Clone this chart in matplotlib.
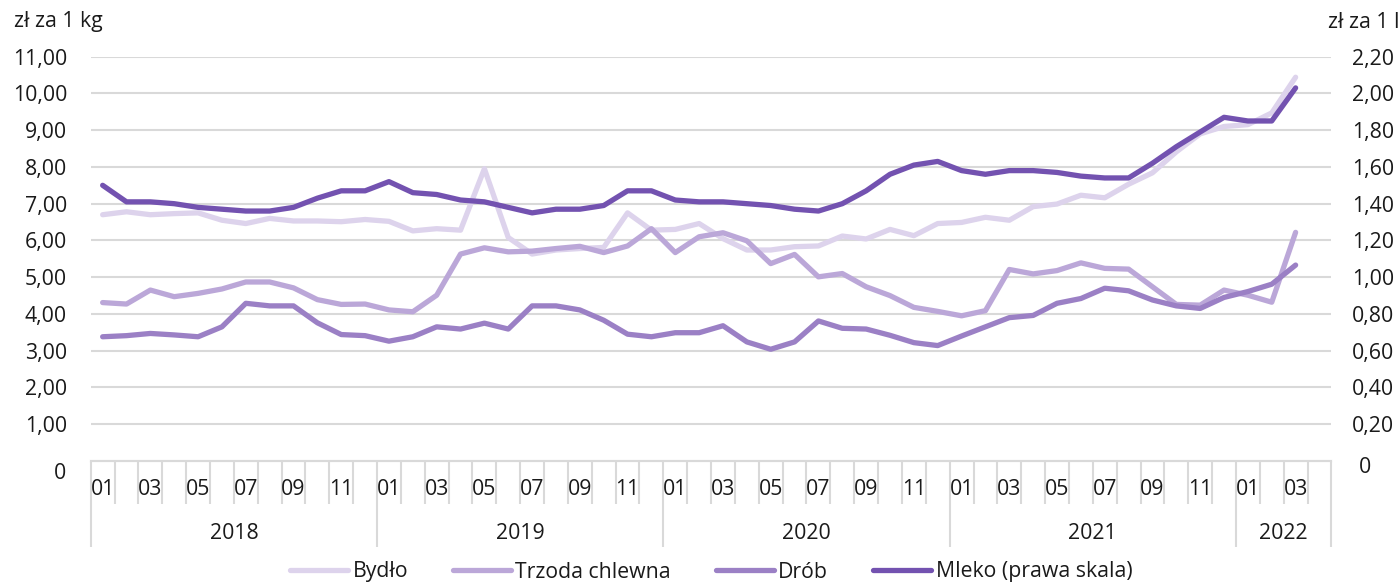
import matplotlib
matplotlib.use("Agg")
import matplotlib.pyplot as plt
import matplotlib.transforms as mtransforms
from matplotlib.ticker import FixedLocator

plt.rcParams['font.family'] = ['Open Sans', 'DejaVu Sans']

years = ['2018', '2019', '2020', '2021', '2022']
months_per_year = [12, 12, 12, 12, 4]
month_labels = ['01', '', '03', '', '05', '', '07', '', '09', '', '11', '']

bydlo = [6.70, 6.78, 6.70, 6.73, 6.75, 6.55, 6.46, 6.60, 6.53, 6.53, 6.51, 6.57,
         6.52, 6.26, 6.32, 6.28, 7.95, 6.08, 5.63, 5.74, 5.78, 5.81, 6.75, 6.28,
         6.30, 6.46, 6.05, 5.74, 5.74, 5.83, 5.85, 6.12, 6.04, 6.30, 6.13, 6.46,
         6.49, 6.63, 6.55, 6.92, 6.99, 7.23, 7.16, 7.53, 7.84, 8.41, 8.90, 9.10,
         9.15, 9.47, 10.44]
trzoda = [4.31, 4.27, 4.65, 4.47, 4.56, 4.68, 4.87, 4.87, 4.71, 4.39, 4.26, 4.27,
          4.11, 4.06, 4.51, 5.63, 5.80, 5.69, 5.71, 5.78, 5.84, 5.67, 5.85, 6.32,
          5.67, 6.10, 6.21, 5.99, 5.37, 5.62, 5.01, 5.10, 4.74, 4.50, 4.18, 4.07,
          3.95, 4.09, 5.21, 5.09, 5.18, 5.39, 5.24, 5.22, 4.74, 4.26, 4.24, 4.65,
          4.51, 4.32, 6.22]
drob = [3.38, 3.41, 3.47, 3.43, 3.38, 3.65, 4.29, 4.22, 4.22, 3.76, 3.44, 3.41,
        3.26, 3.38, 3.65, 3.59, 3.75, 3.59, 4.22, 4.22, 4.11, 3.83, 3.45, 3.38,
        3.49, 3.49, 3.68, 3.24, 3.04, 3.24, 3.81, 3.61, 3.59, 3.42, 3.22, 3.14,
        3.40, 3.65, 3.90, 3.96, 4.29, 4.42, 4.70, 4.63, 4.38, 4.22, 4.15, 4.45,
        4.61, 4.81, 5.33]
mleko = [1.50, 1.41, 1.41, 1.40, 1.38, 1.37, 1.36, 1.36, 1.38, 1.43, 1.47, 1.47,
         1.52, 1.46, 1.45, 1.42, 1.41, 1.38, 1.35, 1.37, 1.37, 1.39, 1.47, 1.47,
         1.42, 1.41, 1.41, 1.40, 1.39, 1.37, 1.36, 1.40, 1.47, 1.56, 1.61, 1.63,
         1.58, 1.56, 1.58, 1.58, 1.57, 1.55, 1.54, 1.54, 1.62, 1.71, 1.79, 1.87,
         1.85, 1.85, 2.03]

series_names = ['Bydło', 'Trzoda chlewna', 'Drób', 'Mleko (prawa skala)']
colors = ['#ddd3ec', '#bba7d8', '#9b80c5', '#7352b0']

left_ticks = [1, 2, 3, 4, 5, 6, 7, 8, 9, 10, 11]
right_ticks = [0.2, 0.4, 0.6, 0.8, 1.0, 1.2, 1.4, 1.6, 1.8, 2.0, 2.2]

TXT = '#1a1a1a'
GRID = '#d9d9d9'
FS = 15.3
LW = 3.8

fig = plt.figure(figsize=(14, 5.84), dpi=100)
ax = fig.add_axes([0.0648, 0.2106, 0.8862, 0.6924])
ax2 = ax.twinx()

n_slots = sum(months_per_year)
x = list(range(len(bydlo)))

lines = []
for vals, c, name in zip([bydlo, trzoda, drob], colors[:3], series_names[:3]):
    l, = ax.plot(x, vals, color=c, lw=LW, label=name,
                 solid_capstyle='round', solid_joinstyle='round', zorder=3)
    lines.append(l)
l, = ax2.plot(x, mleko, color=colors[3], lw=LW, label=series_names[3],
              solid_capstyle='round', solid_joinstyle='round', zorder=3)
lines.append(l)

ax.set_xlim(-0.5, n_slots - 0.5)
ax2.set_xlim(-0.5, n_slots - 0.5)
ax.set_ylim(0, 11)
ax2.set_ylim(0, 2.2)

fmt = lambda v: f"{v:.2f}".replace('.', ',')
ax.set_yticks(left_ticks)
ax.set_yticklabels([fmt(v) for v in left_ticks])
ax2.set_yticks(right_ticks)
ax2.set_yticklabels([fmt(v) for v in right_ticks])
ax.tick_params(axis='y', length=0, pad=17, labelsize=FS, labelcolor=TXT)
ax2.tick_params(axis='y', length=0, pad=15, labelsize=FS, labelcolor=TXT)

ax.yaxis.grid(True, color=GRID, lw=1.5)
ax.set_axisbelow(True)
for a in (ax, ax2):
    for s in ('top', 'left', 'right'):
        a.spines[s].set_visible(False)
    a.spines['bottom'].set_color(GRID)
    a.spines['bottom'].set_linewidth(1.5)

# zero labels (placed slightly lower, as in the reference)
ax.annotate('0', xy=(0, 0), xycoords='axes fraction', xytext=(-18, -9),
            textcoords='offset points', ha='right', va='center', fontsize=FS, color=TXT)
ax2.annotate('0', xy=(1, 0), xycoords='axes fraction', xytext=(20, -5),
             textcoords='offset points', ha='left', va='center', fontsize=FS, color=TXT)

# category axis: month boundaries (minor) and year boundaries (major)
bounds = [-0.5]
for m in months_per_year:
    bounds.append(bounds[-1] + m)
month_bounds = [b - 0.5 for b in range(n_slots + 1)]
ax.xaxis.set_major_locator(FixedLocator(bounds))
ax.xaxis.set_minor_locator(FixedLocator([b for b in month_bounds if b not in bounds]))
ax.set_xticklabels([])
ax.tick_params(axis='x', which='major', length=62, width=1.5, color=GRID, direction='out')
ax.tick_params(axis='x', which='minor', length=31, width=1.5, color=GRID, direction='out')
ax2.tick_params(axis='x', which='both', length=0)

trans = mtransforms.blended_transform_factory(ax.transData, ax.transAxes)
px = 72 / 100
idx = 0
for yr, m in zip(years, months_per_year):
    for k in range(m):
        lab = month_labels[k]
        if lab:
            ax.annotate(lab, xy=(idx + k, 0), xycoords=trans, xytext=(0, -28 * px),
                        textcoords='offset points', ha='center', va='center',
                        fontsize=FS, color=TXT)
    ax.annotate(yr, xy=(idx + (m - 1) / 2, 0), xycoords=trans, xytext=(0, -72 * px),
                textcoords='offset points', ha='center', va='center',
                fontsize=FS, color=TXT)
    idx += m

fig.text(14 / 1400, 1 - 22 / 584, 'zł za 1 kg', ha='left', va='center', fontsize=FS, color=TXT)
fig.text(1328 / 1400, 1 - 22 / 584, 'zł za 1 l', ha='left', va='center', fontsize=FS, color=TXT)

leg = fig.legend(lines, series_names, loc='center', bbox_to_anchor=(711 / 1400, 1 - 572 / 584),
                 ncol=4, frameon=False, fontsize=FS, handlelength=2.75, handletextpad=0.2,
                 columnspacing=2.1, borderaxespad=0, borderpad=0)
for t in leg.get_texts():
    t.set_color(TXT)

fig.savefig('out.png', dpi=100)
